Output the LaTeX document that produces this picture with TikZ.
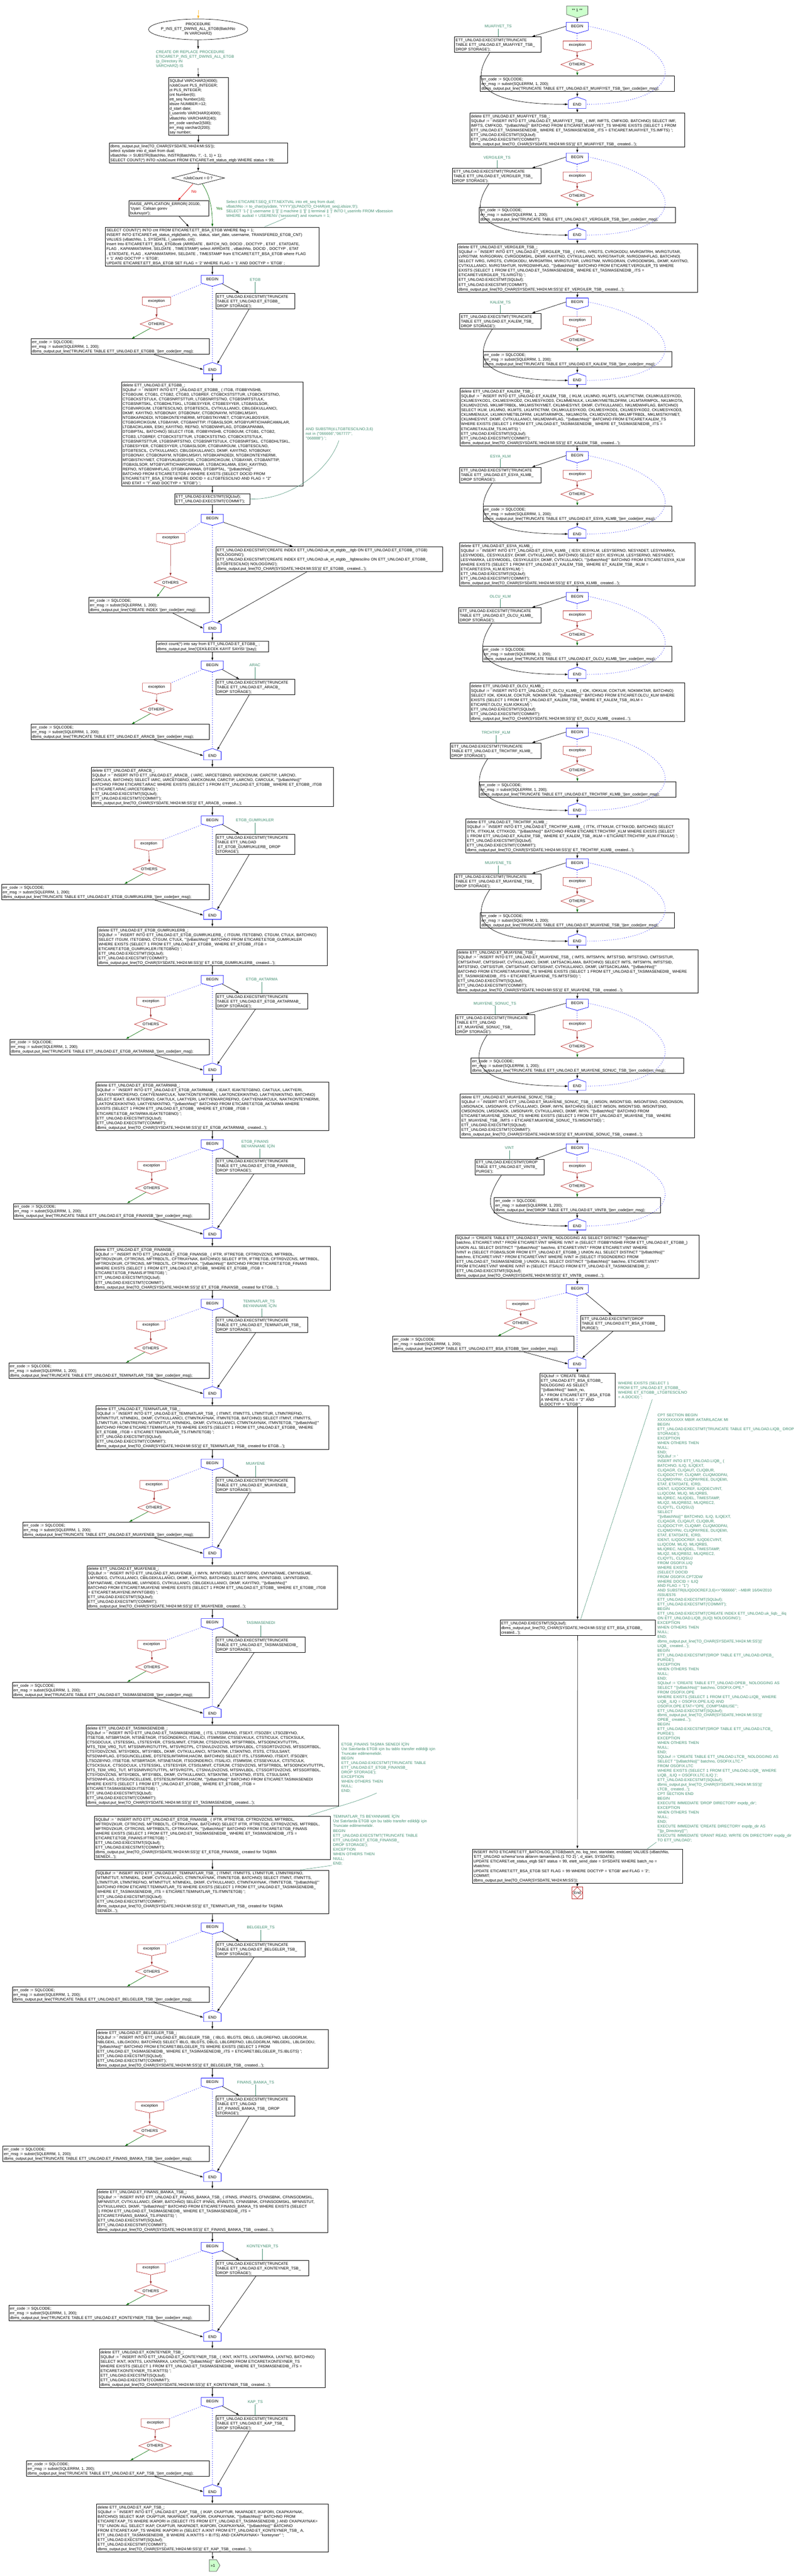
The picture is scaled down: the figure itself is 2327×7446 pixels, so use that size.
\documentclass[tikz,border=0pt]{standalone}
\usepackage{fontspec}
\newfontfamily\flowfont{Liberation Sans}
\usetikzlibrary{calc,positioning,arrows.meta,shapes.geometric,shapes.symbols}
\definecolor{cmtgreen}{RGB}{62,140,110}
\definecolor{excred}{RGB}{185,40,40}
\definecolor{exarrow}{RGB}{160,45,45}
\definecolor{othgreen}{RGB}{0,110,0}
\definecolor{nored}{RGB}{225,0,0}
\definecolor{conngreen}{RGB}{204,255,204}
\definecolor{startorange}{RGB}{255,170,0}
\newcommand{\errlines}[1]{err\_code := SQLCODE;\\err\_msg := substr(SQLERRM, 1, 200);\\dbms\_output.put\_line('#1'||err\_code||err\_msg);}

\begin{document}
\catcode`\_=12
\begin{tikzpicture}[x=1pt,y=-1pt,
    every node/.style={font=\flowfont\fontsize{11.3}{13.45}\selectfont},
    codebox/.style={draw,line width=1pt,align=left,inner xsep=3pt,inner ysep=2pt,
      execute at begin node={\rule{0pt}{11.4pt}},execute at end node={\rule[-2pt]{0pt}{2pt}}},
    cmt/.style={text=cmtgreen,align=left,inner sep=0pt,anchor=north west,
      execute at begin node={\rule{0pt}{11.4pt}},execute at end node={\rule[-2pt]{0pt}{2pt}}},
    tbl/.style={text=cmtgreen,inner sep=1pt,anchor=base,execute at end node={\rule[-2pt]{0pt}{2pt}}},
    beginbox/.style={shape=signal,signal to=south,signal pointer angle=148,draw=blue,line width=1pt,
      minimum width=64pt,minimum height=28pt,inner sep=0pt,anchor=north},
    endbox/.style={shape=signal,signal to=north,signal pointer angle=141,draw=blue,line width=1pt,
      minimum width=51pt,minimum height=28pt,inner sep=0pt,anchor=north},
    excbox/.style={shape=signal,signal to=south,signal pointer angle=155,draw=excred,line width=1pt,
      minimum width=82pt,minimum height=28pt,inner sep=0pt,anchor=north},
    othbox/.style={diamond,aspect=2.64,draw=excred,line width=1pt,
      minimum width=95pt,minimum height=36pt,inner sep=0pt,anchor=north},
    flowarrow/.style={-{Latex[length=9pt,width=6pt]},line width=1pt},
    dotflow/.style={blue,line width=1.3pt,dash pattern=on 1.3pt off 5pt},
    excflow/.style={flowarrow,exarrow},
    othflow/.style={flowarrow,othgreen},
    cmtline/.style={cmtgreen,line width=0.8pt}]
\useasboundingbox (0,0) rectangle (2327,7446);

% procedure head
\coordinate (start) at (574,30);
\node[ellipse,draw,line width=1pt,minimum width=254pt,minimum height=60pt,inner sep=-6pt,align=center] (proc) at (573,85) {PROCEDURE\\P_INS_ETT_DWINS_ALL_ETGB(BatchNo\\IN VARCHAR2)};
\node[cmt,text width=250pt] (cmtProc) at (451,142.6) {CREATE OR REPLACE PROCEDURE\\ETICARET.P_INS_ETT_DWINS_ALL_ETGB\\(p_Directory IN\\VARCHAR2) IS};
\node[codebox,anchor=north,text width=167pt] (decl) at (573.5,224) {SQLBuf  VARCHAR2(4000);\\nJobCount PLS_INTEGER;\\ct  PLS_INTEGER;\\cnt Number(6);\\ett_seq Number(16);\\idsize  NUMBER:=12;\\d_start date;\\l_userinfo VARCHAR2(4000);\\vBatchNo VARCHAR2(40);\\err_code varchar2(500);\\err_msg varchar2(200);\\say number;};
\node[codebox,anchor=north,text width=509pt] (startBox) at (573.5,413) {dbms_output.put_line(TO_CHAR(SYSDATE,'HH24:MI:SS'));\\select sysdate into d_start from dual;\\vBatchNo := SUBSTR(BatchNo, INSTR(BatchNo, '/', -1, 1) + 1);\\SELECT COUNT(*) INTO nJobCount FROM ETICARET.ett_status_etgb WHERE status < 99;};
\node[diamond,draw,line width=1pt,aspect=3.9,minimum width=152pt,minimum height=39pt,inner sep=0pt] (jobQ) at (573,514.5) {nJobCount = 0 ?};
\node[codebox,anchor=north west,text width=224pt] (raise) at (373,580) {RAISE_APPLICATION_ERROR(-20100,\\'Uyari: Calisan gorev\\bulunuyor');};
\node[cmt,text width=520pt] (cmtSeq) at (654,575.6) {Select ETICARET.SEQ_ETT.NEXTVAL into ett_seq from dual;\\vBatchNo := to_char(sysdate, 'YYYY')||LPAD(TO_CHAR(ett_seq),idsize,'0');\\SELECT '1-[' || username || '][' || machine || '][' || terminal || ']' INTO l_userinfo FROM v\$session\\WHERE audsid = USERENV ('sessionid') and rownum = 1;};
\node[codebox,anchor=north,text width=612pt] (bsaBox) at (614,656) {SELECT COUNT(*) INTO cnt FROM ETICARET.ETT_BSA_ETGB WHERE flag = 1;\\INSERT INTO ETICARET.ett_status_etgb(batch_no, status, start_date, username, TRANSFERED_ETGB_CNT)\\VALUES (vBatchNo, 1, SYSDATE, l_userinfo, cnt);\\Insert Into  ETICARET.ETT_BSA_ETGBcek (ARRDATE , BATCH_NO, DOCID  , DOCTYP  , ETAT  , ETATDATE,\\FLAG  , KAPANMATARIHI, SELDATE  , TIMESTAMP) select ARRDATE , vBatchNo, DOCID  , DOCTYP  , ETAT\\, ETATDATE, FLAG  , KAPANMATARIHI, SELDATE  , TIMESTAMP from ETICARET.ETT_BSA_ETGB where  FLAG\\= '1' AND DOCTYP = 'ETGB';\\UPDATE ETICARET.ETT_BSA_ETGB SET FLAG = '2' WHERE FLAG = '1' AND DOCTYP = 'ETGB' ;};
\node[text=nored,anchor=base] (lblNo) at (561,558) {No};
\node[text=othgreen,anchor=base] (lblYes) at (634,607) {Yes};

\draw[flowarrow,startorange] (start) -- (proc.north);
\draw[flowarrow] (proc.south) -- (proc.south |- cmtProc.north);
\draw[flowarrow] (proc.south |- cmtProc.south) -- (decl.north);
\draw[flowarrow] (decl.south) -- (startBox.north);
\draw[flowarrow] (startBox.south) -- (jobQ.north);
\draw[flowarrow,nored] ($(jobQ.south)+(-15,-3)$) -- ([xshift=141pt]raise.north west);
\draw[flowarrow,othgreen] ($(jobQ.south)+(12,-3)$) .. controls +(20,30) and +(0,-60) .. (bsaBox.north);
\draw[flowarrow] ([xshift=145pt]raise.south west) -- ([xshift=242pt]bsaBox.north west);
\draw[cmtline] ([xshift=172pt]cmtSeq.south west) -- ([xshift=460pt]bsaBox.north west);

% ETGB
\node[beginbox] (beginL1) at (614,795) {BEGIN};
\node[tbl] (lblL1) at (738,812) {ETGB};
\node[codebox,anchor=north west,text width=222pt] (truncL1) at (624,847) {ETT_UNLOAD.EXECSTMT('TRUNCATE\\TABLE ETT_UNLOAD.ET_ETGBB_\\DROP STORAGE');};
\node[excbox] (excL1) at (452.5,858) {exception};
\node[othbox] (othL1) at (452.5,918) {OTHERS};
\node[codebox,anchor=north east,text width=509pt] (errL1) at (605,979) {\errlines{TRUNCATE TABLE ETT_UNLOAD.ET_ETGBB_}};
\node[endbox] (endL1) at (614,1047) {END};
\node[codebox,anchor=north,text width=519pt] (delL1) at (614,1104) {delete ETT_UNLOAD.ET_ETGBB_;\\SQLBuf := ' INSERT INTO ETT_UNLOAD.ET_ETGBB_ ( ITGB, ITGBBYNSHB,\\CTGBGUM, CTGB1, CTGB2, CTGB3, LTGBREF, CTGBCKSTSTTUR, LTGBCKSTSTNO,\\CTGBCKSTSTULK, CTGBSNRTSTTUR, LTGBSNRTSTNO, CTGBSNRTSTULK,\\CTGBSNRTSKL, CTGBDHLTSKL, LTGBESYYER, CTGBESYYER, LTGBASLSOR,\\CTGBVARGUM, LTGBTESCILNO, DTGBTESCIL, CVTKULLANICI, CBILGEKULLANICI,\\DKMF, KAYITNO, NTGBONAY, DTGBONAY, CTGBONAYM, NTGBKLMSAYI,\\NTGBKAPADEDI, NTGBKONTEYNERMI, MTGBISTKIYMET, CTGBYUKLBOSYER,\\CTGBGIRCIKGUM, LTGBAYAR, CTGBANTTIP, ITGBASLSOR, MTGBYURTICIHARCAMALAR,\\LTGBACIKLAMA, ESKI_KAYITNO, REFNO, NTGBDWHFLAG, DTGBKAPANMA,\\DTGBIPTAL, BATCHNO) SELECT ITGB, ITGBBYNSHB, CTGBGUM, CTGB1, CTGB2,\\CTGB3, LTGBREF, CTGBCKSTSTTUR, LTGBCKSTSTNO, CTGBCKSTSTULK,\\CTGBSNRTSTTUR, LTGBSNRTSTNO, CTGBSNRTSTULK, CTGBSNRTSKL, CTGBDHLTSKL,\\LTGBESYYER, CTGBESYYER, LTGBASLSOR, CTGBVARGUM, LTGBTESCILNO,\\DTGBTESCIL, CVTKULLANICI, CBILGEKULLANICI, DKMF, KAYITNO, NTGBONAY,\\DTGBONAY, CTGBONAYM, NTGBKLMSAYI, NTGBKAPADEDI, NTGBKONTEYNERMI,\\MTGBISTKIYMET, CTGBYUKLBOSYER, CTGBGIRCIKGUM, LTGBAYAR, CTGBANTTIP,\\ITGBASLSOR, MTGBYURTICIHARCAMALAR, LTGBACIKLAMA, ESKI_KAYITNO,\\REFNO, NTGBDWHFLAG, DTGBKAPANMA, DTGBIPTAL, '''||vBatchNo||'''\\BATCHNO FROM ETICARET.ETGB d WHERE EXISTS (SELECT DOCID FROM\\ETICARET.ETT_BSA_ETGB WHERE DOCID = d.LTGBTESCILNO AND FLAG = ''2''\\AND ETAT = ''I'' AND DOCTYP = ''ETGB'') ';};
\node[codebox,anchor=north,text width=212pt] (execL1) at (614,1426) {ETT_UNLOAD.EXECSTMT(SQLbuf);\\ETT_UNLOAD.EXECSTMT('COMMIT');};
\node[cmt,text width=200pt] (cmtSubstr) at (884,1232) {AND SUBSTR(d.LTGBTESCILNO,3,6)\\not in (''066666'',''067777'',\\''068888'') ';};

% index block
\node[beginbox] (beginIdx) at (614,1486) {BEGIN};
\node[codebox,anchor=north west,text width=649pt] (truncIdx) at (624,1580) {ETT_UNLOAD.EXECSTMT('CREATE INDEX ETT_UNLOAD.uk_et_etgbb__itgb ON ETT_UNLOAD.ET_ETGBB_ (ITGB)\\NOLOGGING');\\ETT_UNLOAD.EXECSTMT('CREATE INDEX ETT_UNLOAD.uk_et_etgbb__ltgbtescilno ON ETT_UNLOAD.ET_ETGBB_\\(LTGBTESCILNO) NOLOGGING');\\dbms_output.put_line(TO_CHAR(SYSDATE,'HH24:MI:SS')||' ET_ETGBB_ created...');};
\node[excbox] (excIdx) at (493.5,1542) {exception};
\node[othbox] (othIdx) at (493,1665) {OTHERS};
\node[codebox,anchor=north east,text width=342pt] (errIdx) at (605,1726) {\errlines{CREATE INDEX }};
\node[endbox] (endIdx) at (614,1795) {END};
\node[codebox,anchor=north,text width=319pt] (countBox) at (614,1852) {select count(*) into say from ETT_UNLOAD.ET_ETGBB_ ;\\dbms_output.put_line('ÇEKİLECEK KAYIT SAYISI '||say);};

\draw[flowarrow] (bsaBox.south) -- (beginL1.north);
\draw[flowarrow] (delL1.south) -- (execL1.north);
\draw[flowarrow] (execL1.south) -- (beginIdx.north);
\draw[cmtline] ([xshift=96pt]cmtSubstr.south west) .. controls +(-30,90) and +(110,5) .. (execL1.east);
\draw[flowarrow] (beginIdx.-20) -- ([xshift=223pt]truncIdx.north west);
\draw[dotflow] (beginIdx.200) -- (excIdx.north east);
\draw[dotflow] (beginIdx.south) -- (endIdx.north);
\draw[excflow] (excIdx.south) -- (othIdx.north);
\draw[othflow] (othIdx.215) -- ($(othIdx.center |- errIdx.north)+(-40,0)$);
\draw[flowarrow] ([xshift=-106pt]errIdx.south east) -- (endIdx.west);
\draw[flowarrow] ([xshift=264pt]truncIdx.south west) -- (endIdx.50);
\draw[flowarrow] (endIdx.south) -- (countBox.north);

% ARAC
\node[beginbox] (beginL2) at (614,1910) {BEGIN};
\node[tbl] (lblL2) at (737,1926) {ARAC};
\node[codebox,anchor=north west,text width=222pt] (truncL2) at (624,1963) {ETT_UNLOAD.EXECSTMT('TRUNCATE\\TABLE ETT_UNLOAD.ET_ARACB_\\DROP STORAGE');};
\node[excbox] (excL2) at (453,1974) {exception};
\node[othbox] (othL2) at (452.5,2032) {OTHERS};
\node[codebox,anchor=north east,text width=509pt] (errL2) at (605,2093) {\errlines{TRUNCATE TABLE ETT_UNLOAD.ET_ARACB_}};
\node[endbox] (endL2) at (614,2163) {END};
\node[codebox,anchor=north,text width=695pt] (delL2) at (614,2218) {delete ETT_UNLOAD.ET_ARACB_;\\SQLBuf := ' INSERT INTO ETT_UNLOAD.ET_ARACB_ ( IARC, IARCETGBNO, IARCKONUM, CARCTIP, LARCNO,\\CARCULK, BATCHNO) SELECT IARC, IARCETGBNO, IARCKONUM, CARCTIP, LARCNO, CARCULK, '''||vBatchNo||'''\\BATCHNO FROM ETICARET.ARAC WHERE EXISTS (SELECT 1 FROM ETT_UNLOAD.ET_ETGBB_ WHERE ET_ETGBB_.ITGB\\= ETICARET.ARAC.IARCETGBNO) ';\\ETT_UNLOAD.EXECSTMT(SQLbuf);\\ETT_UNLOAD.EXECSTMT('COMMIT');\\dbms_output.put_line(TO_CHAR(SYSDATE,'HH24:MI:SS')||' ET_ARACB_ created...');};

% ETGB_GUMRUKLER
\node[beginbox] (beginL3) at (614,2358) {BEGIN};
\node[tbl] (lblL3) at (737,2375) {ETGB_GUMRUKLER};
\node[codebox,anchor=north west,text width=222pt] (truncL3) at (624,2411) {ETT_UNLOAD.EXECSTMT('TRUNCATE\\TABLE ETT_UNLOAD\\.ET_ETGB_GUMRUKLERB_ DROP\\STORAGE');};
\node[excbox] (excL3) at (430,2427) {exception};
\node[othbox] (othL3) at (431.5,2494) {OTHERS};
\node[codebox,anchor=north east,text width=594pt] (errL3) at (605,2555) {\errlines{TRUNCATE TABLE ETT_UNLOAD.ET_ETGB_GUMRUKLERB_}};
\node[endbox] (endL3) at (614,2624) {END};
\node[codebox,anchor=north,text width=657pt] (delL3) at (614,2679) {delete ETT_UNLOAD.ET_ETGB_GUMRUKLERB_;\\SQLBuf := ' INSERT INTO ETT_UNLOAD.ET_ETGB_GUMRUKLERB_ ( ITGUM, ITETGBNO, CTGUM, CTULK, BATCHNO)\\SELECT ITGUM, ITETGBNO, CTGUM, CTULK,  '''||vBatchNo||''' BATCHNO FROM ETICARET.ETGB_GUMRUKLER\\WHERE EXISTS (SELECT 1 FROM ETT_UNLOAD.ET_ETGBB_ WHERE ET_ETGBB_.ITGB =\\ETICARET.ETGB_GUMRUKLER.ITETGBNO) ';\\ETT_UNLOAD.EXECSTMT(SQLbuf);\\ETT_UNLOAD.EXECSTMT('COMMIT');\\dbms_output.put_line(TO_CHAR(SYSDATE,'HH24:MI:SS')||' ET_ETGB_GUMRUKLERB_ created...');};

% ETGB_AKTARMA
\node[beginbox] (beginL4) at (614,2819) {BEGIN};
\node[tbl] (lblL4) at (757,2835) {ETGB_AKTARMA};
\node[codebox,anchor=north west,text width=259pt] (truncL4) at (624,2871) {ETT_UNLOAD.EXECSTMT('TRUNCATE\\TABLE ETT_UNLOAD.ET_ETGB_AKTARMAB_\\DROP STORAGE');};
\node[excbox] (excL4) at (436,2882) {exception};
\node[othbox] (othL4) at (436,2942) {OTHERS};
\node[codebox,anchor=north east,text width=570pt] (errL4) at (605,3003) {\errlines{TRUNCATE TABLE ETT_UNLOAD.ET_ETGB_AKTARMAB_}};
\node[endbox] (endL4) at (614,3072) {END};
\node[codebox,anchor=north,text width=668pt] (delL4) at (614,3128) {delete ETT_UNLOAD.ET_ETGB_AKTARMAB_;\\SQLBuf := ' INSERT INTO ETT_UNLOAD.ET_ETGB_AKTARMAB_ ( IEAKT, IEAKTETGBNO, CAKTULK, LAKTYERI,\\LAKTYENIARCREFNO, CAKTYENIARCULK, NAKTKONTEYNERMI, LAKTONCEKIKNTNO, LAKTYENIKNTNO, BATCHNO)\\SELECT IEAKT, IEAKTETGBNO, CAKTULK, LAKTYERI, LAKTYENIARCREFNO, CAKTYENIARCULK, NAKTKONTEYNERMI,\\LAKTONCEKIKNTNO, LAKTYENIKNTNO, '''||vBatchNo||''' BATCHNO FROM ETICARET.ETGB_AKTARMA WHERE\\EXISTS (SELECT 1 FROM ETT_UNLOAD.ET_ETGBB_ WHERE ET_ETGBB_.ITGB =\\ETICARET.ETGB_AKTARMA.IEAKTETGBNO) ';\\ETT_UNLOAD.EXECSTMT(SQLbuf);\\ETT_UNLOAD.EXECSTMT('COMMIT');\\dbms_output.put_line(TO_CHAR(SYSDATE,'HH24:MI:SS')||' ET_ETGB_AKTARMAB_ created...');};

% ETGB_FINANS
\node[beginbox] (beginL5) at (614,3294) {BEGIN};
\node[cmt,text width=106pt] (lblL5) at (698,3292.6) {ETGB_FINANS\\BEYANNAME İÇİN};
\node[codebox,anchor=north west,text width=250pt] (truncL5) at (624,3347) {ETT_UNLOAD.EXECSTMT('TRUNCATE\\TABLE ETT_UNLOAD.ET_ETGB_FINANSB_\\DROP STORAGE');};
\node[excbox] (excL5) at (438.5,3357) {exception};
\node[othbox] (othL5) at (439,3416) {OTHERS};
\node[codebox,anchor=north east,text width=560pt] (errL5) at (605,3478) {\errlines{TRUNCATE TABLE ETT_UNLOAD.ET_ETGB_FINANSB_}};
\node[endbox] (endL5) at (614,3546) {END};
\node[codebox,anchor=north,text width=677pt] (delL5) at (614,3603) {delete ETT_UNLOAD.ET_ETGB_FINANSB_;\\SQLBuf := ' INSERT INTO ETT_UNLOAD.ET_ETGB_FINANSB_ ( IFTR, IFTRETGB, CFTRDVZCNS, MFTRBDL,\\MFTRDVZKUR, CFTRCINS, MFTRBDLTL, CFTRKAYNAK, BATCHNO) SELECT IFTR, IFTRETGB, CFTRDVZCNS, MFTRBDL,\\MFTRDVZKUR, CFTRCINS, MFTRBDLTL, CFTRKAYNAK, '''||vBatchNo||''' BATCHNO FROM ETICARET.ETGB_FINANS\\WHERE EXISTS (SELECT 1 FROM ETT_UNLOAD.ET_ETGBB_ WHERE ET_ETGBB_.ITGB =\\ETICARET.ETGB_FINANS.IFTRETGB) ';\\ETT_UNLOAD.EXECSTMT(SQLbuf);\\ETT_UNLOAD.EXECSTMT('COMMIT');\\dbms_output.put_line(TO_CHAR(SYSDATE,'HH24:MI:SS')||' ET_ETGB_FINANSB_ created for ETGB...');};

% TEMINATLAR_TS
\node[beginbox] (beginL6) at (614,3755) {BEGIN};
\node[cmt,text width=106pt] (lblL6) at (703,3754.3) {TEMINATLAR_TS\\BEYANNAME İÇİN};
\node[codebox,anchor=north west,text width=259pt] (truncL6) at (624,3807) {ETT_UNLOAD.EXECSTMT('TRUNCATE\\TABLE ETT_UNLOAD.ET_TEMINATLAR_TSB_\\DROP STORAGE');};
\node[excbox] (excL6) at (436,3818) {exception};
\node[othbox] (othL6) at (436,3878) {OTHERS};
\node[codebox,anchor=north east,text width=573pt] (errL6) at (605,3939) {\errlines{TRUNCATE TABLE ETT_UNLOAD.ET_TEMINATLAR_TSB_}};
\node[endbox] (endL6) at (614,4007) {END};
\node[codebox,anchor=north,text width=668pt] (delL6) at (614,4063) {delete ETT_UNLOAD.ET_TEMINATLAR_TSB_;\\SQLBuf := ' INSERT INTO ETT_UNLOAD.ET_TEMINATLAR_TSB_ ( ITMNT, ITMNTTS, LTMNTTUR, LTMNTREFNO,\\MTMNTTUT, NTMNEKL, DKMF, CVTKULLANICI, CTMNTKAYNAK, ITMNTETGB, BATCHNO) SELECT ITMNT, ITMNTTS,\\LTMNTTUR, LTMNTREFNO, MTMNTTUT, NTMNEKL, DKMF, CVTKULLANICI, CTMNTKAYNAK, ITMNTETGB, '''||vBatchNo||'''\\BATCHNO FROM ETICARET.TEMINATLAR_TS WHERE EXISTS (SELECT 1 FROM ETT_UNLOAD.ET_ETGBB_ WHERE\\ET_ETGBB_.ITGB = ETICARET.TEMINATLAR_TS.ITMNTETGB) ';\\ETT_UNLOAD.EXECSTMT(SQLbuf);\\ETT_UNLOAD.EXECSTMT('COMMIT');\\dbms_output.put_line(TO_CHAR(SYSDATE,'HH24:MI:SS')||' ET_TEMINATLAR_TSB_ created for ETGB...');};

% MUAYENE
\node[beginbox] (beginL7) at (614,4217) {BEGIN};
\node[tbl] (lblL7) at (739,4234) {MUAYENE};
\node[codebox,anchor=north west,text width=222pt] (truncL7) at (624,4269) {ETT_UNLOAD.EXECSTMT('TRUNCATE\\TABLE ETT_UNLOAD.ET_MUAYENEB_\\DROP STORAGE');};
\node[excbox] (excL7) at (445.5,4279) {exception};
\node[othbox] (othL7) at (445.5,4339) {OTHERS};
\node[codebox,anchor=north east,text width=533pt] (errL7) at (605,4399) {\errlines{TRUNCATE TABLE ETT_UNLOAD.ET_MUAYENEB_}};
\node[endbox] (endL7) at (614,4469) {END};
\node[codebox,anchor=north,text width=719pt] (delL7) at (614,4525) {delete ETT_UNLOAD.ET_MUAYENEB_;\\SQLBuf := ' INSERT INTO ETT_UNLOAD.ET_MUAYENEB_ ( IMYN, IMYNTGBID, LMYNTGBNO, CMYNATAME, CMYNISLME,\\LMYNDEG, CVTKULLANICI, CBILGEKULLANICI, DKMF, KAYITNO, BATCHNO) SELECT IMYN, IMYNTGBID, LMYNTGBNO,\\CMYNATAME, CMYNISLME, LMYNDEG, CVTKULLANICI, CBILGEKULLANICI, DKMF, KAYITNO,  '''||vBatchNo||'''\\BATCHNO FROM ETICARET.MUAYENE WHERE EXISTS (SELECT 1 FROM ETT_UNLOAD.ET_ETGBB_ WHERE ET_ETGBB_.ITGB\\= ETICARET.MUAYENE.IMYNTGBID) ';\\ETT_UNLOAD.EXECSTMT(SQLbuf);\\ETT_UNLOAD.EXECSTMT('COMMIT');\\dbms_output.put_line(TO_CHAR(SYSDATE,'HH24:MI:SS')||' ET_MUAYENEB_ created...');};

% TASIMASENEDI
\node[beginbox] (beginL8) at (614,4678) {BEGIN};
\node[tbl] (lblL8) at (754,4695) {TASIMASENEDI};
\node[codebox,anchor=north west,text width=251pt] (truncL8) at (624,4731) {ETT_UNLOAD.EXECSTMT('TRUNCATE\\TABLE ETT_UNLOAD.ET_TASIMASENEDIB_\\DROP STORAGE');};
\node[excbox] (excL8) at (438.5,4741) {exception};
\node[othbox] (othL8) at (439.5,4800) {OTHERS};
\node[codebox,anchor=north east,text width=563pt] (errL8) at (605,4862) {\errlines{TRUNCATE TABLE ETT_UNLOAD.ET_TASIMASENEDIB_}};
\node[endbox] (endL8) at (614,4931) {END};
\node[codebox,anchor=north,text width=725pt] (delL8) at (614,4986) {delete ETT_UNLOAD.ET_TASIMASENEDIB_;\\SQLBuf := ' INSERT INTO ETT_UNLOAD.ET_TASIMASENEDIB_ ( ITS, LTSSIRANO, ITSEXT, ITSOZBY, LTSOZBYNO,\\ITSETGB, NTSBRTAGR, NTSNETAGR, ITSGONDERICI, ITSALICI, ITSMMSM, CTSSEVKULK, CTSTICULK, CTSCKSULK,\\CTSGDCULK, LTSTESSKL, LTSTESYER, CTSISLMNIT, CTSRJM, CTSDVZCNS, MTSFTRBDL, MTSODNCKVTUTTPL,\\MTS_TEM_VRG_TUT, MTSSNRVRGTUTTPL, MTSVRGTPL, CTSNVLDVZCNS, MTSNVLBDL, CTSSGRTDVZCNS, MTSSGRTBDL,\\CTSYDDVZCNS, MTSYDBDL, MTSYIBDL, DKMF, CVTKULLANICI, NTSKNTMI, LTSKNTNO, ITSTS, CTSULSANT,\\NTSDWHFLAG, DTSGUNCELLEME, DTSTESLIMTARIHI,HACIM, BATCHNO) SELECT ITS, LTSSIRANO, ITSEXT, ITSOZBY,\\LTSOZBYNO, ITSETGB, NTSBRTAGR, NTSNETAGR, ITSGONDERICI, ITSALICI, ITSMMSM, CTSSEVKULK, CTSTICULK,\\CTSCKSULK, CTSGDCULK, LTSTESSKL, LTSTESYER, CTSISLMNIT, CTSRJM, CTSDVZCNS, MTSFTRBDL, MTSODNCKVTUTTPL,\\MTS_TEM_VRG_TUT, MTSSNRVRGTUTTPL, MTSVRGTPL, CTSNVLDVZCNS, MTSNVLBDL, CTSSGRTDVZCNS, MTSSGRTBDL,\\CTSYDDVZCNS, MTSYDBDL, MTSYIBDL, DKMF, CVTKULLANICI, NTSKNTMI, LTSKNTNO, ITSTS, CTSULSANT,\\NTSDWHFLAG, DTSGUNCELLEME, DTSTESLIMTARIHI,HACIM, '''||vBatchNo||''' BATCHNO FROM ETICARET.TASIMASENEDI\\WHERE EXISTS (SELECT 1 FROM ETT_UNLOAD.ET_ETGBB_ WHERE ET_ETGBB_.ITGB =\\ETICARET.TASIMASENEDI.ITSETGB) ';\\ETT_UNLOAD.EXECSTMT(SQLbuf);\\ETT_UNLOAD.EXECSTMT('COMMIT');\\dbms_output.put_line(TO_CHAR(SYSDATE,'HH24:MI:SS')||' ET_TASIMASENEDIB_ created...');};
\node[codebox,anchor=north,text width=676pt] (finTasima) at (614,5249) {SQLBuf := ' INSERT INTO ETT_UNLOAD.ET_ETGB_FINANSB_ ( IFTR, IFTRETGB, CFTRDVZCNS, MFTRBDL,\\MFTRDVZKUR, CFTRCINS, MFTRBDLTL, CFTRKAYNAK, BATCHNO) SELECT IFTR, IFTRETGB, CFTRDVZCNS, MFTRBDL,\\MFTRDVZKUR, CFTRCINS, MFTRBDLTL, CFTRKAYNAK, '''||vBatchNo||''' BATCHNO FROM ETICARET.ETGB_FINANS\\WHERE EXISTS (SELECT 1 FROM ETT_UNLOAD.ET_TASIMASENEDIB_ WHERE ET_TASIMASENEDIB_.ITS =\\ETICARET.ETGB_FINANS.IFTRETGB) ';\\ETT_UNLOAD.EXECSTMT(SQLbuf);\\ETT_UNLOAD.EXECSTMT('COMMIT');\\dbms_output.put_line(TO_CHAR(SYSDATE,'HH24:MI:SS')||' ET_ETGB_FINANSB_ created for TAŞIMA\\SENEDİ...');};
\node[codebox,anchor=north,text width=667pt] (temTasima) at (614.5,5405) {SQLBuf := ' INSERT INTO ETT_UNLOAD.ET_TEMINATLAR_TSB_ ( ITMNT, ITMNTTS, LTMNTTUR, LTMNTREFNO,\\MTMNTTUT, NTMNEKL, DKMF, CVTKULLANICI, CTMNTKAYNAK, ITMNTETGB, BATCHNO) SELECT ITMNT, ITMNTTS,\\LTMNTTUR, LTMNTREFNO, MTMNTTUT, NTMNEKL, DKMF, CVTKULLANICI, CTMNTKAYNAK, ITMNTETGB, '''||vBatchNo||'''\\BATCHNO FROM ETICARET.TEMINATLAR_TS WHERE EXISTS (SELECT 1 FROM ETT_UNLOAD.ET_TASIMASENEDIB_\\WHERE ET_TASIMASENEDIB_.ITS = ETICARET.TEMINATLAR_TS.ITMNTETGB) ';\\ETT_UNLOAD.EXECSTMT(SQLbuf);\\ETT_UNLOAD.EXECSTMT('COMMIT');\\dbms_output.put_line(TO_CHAR(SYSDATE,'HH24:MI:SS')||' ET_TEMINATLAR_TSB_ created for TAŞIMA\\SENEDİ...');};
\node[cmt,text width=420pt] (cmtFinans) at (987,5034.5) {ETGB_FINANS TAŞIMA SENEDİ İÇİN\\Üst Satırlarda ETGB için bu tablo transfer edildiği için\\Truncate edilmemelidir.\\BEGIN\\ETT_UNLOAD.EXECSTMT('TRUNCATE TABLE ETT_UNLOAD.ET_ETGB_FINANSB_\\DROP STORAGE');\\EXCEPTION\\WHEN OTHERS THEN\\NULL;\\END;};
\node[cmt,text width=420pt] (cmtTemin) at (963,5243.6) {TEMINATLAR_TS BEYANNAME İÇİN\\Üst Satırlarda ETGB için bu tablo transfer edildiği için\\Truncate edilmemelidir.\\BEGIN\\ETT_UNLOAD.EXECSTMT('TRUNCATE TABLE ETT_UNLOAD.ET_ETGB_FINANSB_\\DROP STORAGE');\\EXCEPTION\\WHEN OTHERS THEN\\NULL;\\END;};
\draw[flowarrow] (delL8.south) -- (finTasima.north);
\draw[flowarrow] (finTasima.south) -- (temTasima.north);
\draw[cmtline] ([xshift=102pt]cmtFinans.south west) .. controls +(-69,31) and +(68,-24) .. ([xshift=619pt]finTasima.north west);
\draw[cmtline] ([xshift=-3pt]cmtTemin.south west) -- ([xshift=591pt]temTasima.north west);

% BELGELER_TS
\node[beginbox] (beginL9) at (614,5558) {BEGIN};
\node[tbl] (lblL9) at (754,5575) {BELGELER_TS};
\node[codebox,anchor=north west,text width=251pt] (truncL9) at (624,5611) {ETT_UNLOAD.EXECSTMT('TRUNCATE\\TABLE ETT_UNLOAD.ET_BELGELER_TSB_\\DROP STORAGE');};
\node[excbox] (excL9) at (438.5,5621) {exception};
\node[othbox] (othL9) at (439,5680) {OTHERS};
\node[codebox,anchor=north east,text width=563pt] (errL9) at (605,5742) {\errlines{TRUNCATE TABLE ETT_UNLOAD.ET_BELGELER_TSB_}};
\node[endbox] (endL9) at (614,5810) {END};
\node[codebox,anchor=north,text width=665pt] (delL9) at (614,5866) {delete ETT_UNLOAD.ET_BELGELER_TSB_;\\SQLBuf := ' INSERT INTO ETT_UNLOAD.ET_BELGELER_TSB_ ( IBLG, IBLGTS, DBLG, LBLGREFNO, LBLGDGRLM,\\NBLGEKL, LBLGKODU, BATCHNO) SELECT IBLG, IBLGTS, DBLG, LBLGREFNO, LBLGDGRLM, NBLGEKL, LBLGKODU,\\'''||vBatchNo||''' BATCHNO FROM ETICARET.BELGELER_TS WHERE EXISTS (SELECT 1 FROM\\ETT_UNLOAD.ET_TASIMASENEDIB_ WHERE ET_TASIMASENEDIB_.ITS = ETICARET.BELGELER_TS.IBLGTS) ';\\ETT_UNLOAD.EXECSTMT(SQLbuf);\\ETT_UNLOAD.EXECSTMT('COMMIT');\\dbms_output.put_line(TO_CHAR(SYSDATE,'HH24:MI:SS')||' ET_BELGELER_TSB_ created...');};

% FINANS_BANKA_TS
\node[beginbox] (beginL10) at (614,6006) {BEGIN};
\node[tbl] (lblL10) at (739,6022.5) {FINANS_BANKA_TS};
\node[codebox,anchor=north west,text width=222pt] (truncL10) at (624,6058) {ETT_UNLOAD.EXECSTMT('TRUNCATE\\TABLE ETT_UNLOAD\\.ET_FINANS_BANKA_TSB_ DROP\\STORAGE');};
\node[excbox] (excL10) at (432.5,6075) {exception};
\node[othbox] (othL10) at (433,6141) {OTHERS};
\node[codebox,anchor=north east,text width=590pt] (errL10) at (605,6203) {\errlines{TRUNCATE TABLE ETT_UNLOAD.ET_FINANS_BANKA_TSB_}};
\node[endbox] (endL10) at (614,6272) {END};
\node[codebox,anchor=north,text width=661pt] (delL10) at (614,6327) {delete ETT_UNLOAD.ET_FINANS_BANKA_TSB_;\\SQLBuf := ' INSERT INTO ETT_UNLOAD.ET_FINANS_BANKA_TSB_ ( IFNNS, IFNNSTS, CFNNSBNK, CFNNSODMSKL,\\MFNNSTUT, CVTKULLANICI, DKMF, BATCHNO) SELECT IFNNS, IFNNSTS, CFNNSBNK, CFNNSODMSKL, MFNNSTUT,\\CVTKULLANICI, DKMF,  '''||vBatchNo||''' BATCHNO FROM ETICARET.FINANS_BANKA_TS WHERE EXISTS (SELECT\\1 FROM ETT_UNLOAD.ET_TASIMASENEDIB_ WHERE ET_TASIMASENEDIB_.ITS =\\ETICARET.FINANS_BANKA_TS.IFNNSTS) ';\\ETT_UNLOAD.EXECSTMT(SQLbuf);\\ETT_UNLOAD.EXECSTMT('COMMIT');\\dbms_output.put_line(TO_CHAR(SYSDATE,'HH24:MI:SS')||' ET_FINANS_BANKA_TSB_ created...');};

% KONTEYNER_TS
\node[beginbox] (beginL11) at (614,6481) {BEGIN};
\node[tbl] (lblL11) at (759,6497) {KONTEYNER_TS};
\node[codebox,anchor=north west,text width=262pt] (truncL11) at (624,6533) {ETT_UNLOAD.EXECSTMT('TRUNCATE\\TABLE ETT_UNLOAD.ET_KONTEYNER_TSB_\\DROP STORAGE');};
\node[excbox] (excL11) at (436,6543) {exception};
\node[othbox] (othL11) at (436,6603) {OTHERS};
\node[codebox,anchor=north east,text width=573pt] (errL11) at (605,6663) {\errlines{TRUNCATE TABLE ETT_UNLOAD.ET_KONTEYNER_TSB_}};
\node[endbox] (endL11) at (614,6734) {END};
\node[codebox,anchor=north,text width=647pt] (delL11) at (614,6789) {delete ETT_UNLOAD.ET_KONTEYNER_TSB_;\\SQLBuf := ' INSERT INTO ETT_UNLOAD.ET_KONTEYNER_TSB_ ( IKNT, IKNTTS, LKNTMARKA, LKNTNO, BATCHNO)\\SELECT IKNT, IKNTTS, LKNTMARKA, LKNTNO, '''||vBatchNo||''' BATCHNO FROM ETICARET.KONTEYNER_TS\\WHERE EXISTS (SELECT 1 FROM ETT_UNLOAD.ET_TASIMASENEDIB_ WHERE ET_TASIMASENEDIB_.ITS =\\ETICARET.KONTEYNER_TS.IKNTTS) ';\\ETT_UNLOAD.EXECSTMT(SQLbuf);\\ETT_UNLOAD.EXECSTMT('COMMIT');\\dbms_output.put_line(TO_CHAR(SYSDATE,'HH24:MI:SS')||' ET_KONTEYNER_TSB_ created...');};

% KAP_TS
\node[beginbox] (beginL12) at (614,6929) {BEGIN};
\node[tbl] (lblL12) at (738,6946) {KAP_TS};
\node[codebox,anchor=north west,text width=222pt] (truncL12) at (624,6981) {ETT_UNLOAD.EXECSTMT('TRUNCATE\\TABLE ETT_UNLOAD.ET_KAP_TSB_\\DROP STORAGE');};
\node[excbox] (excL12) at (449,6991) {exception};
\node[othbox] (othL12) at (448.5,7051) {OTHERS};
\node[codebox,anchor=north east,text width=522pt] (errL12) at (605,7112) {\errlines{TRUNCATE TABLE ETT_UNLOAD.ET_KAP_TSB_}};
\node[endbox] (endL12) at (614,7181) {END};
\node[codebox,anchor=north,text width=663pt] (delL12) at (614,7237) {delete ETT_UNLOAD.ET_KAP_TSB_;\\SQLBuf := ' INSERT INTO ETT_UNLOAD.ET_KAP_TSB_ ( IKAP, CKAPTUR, NKAPADET, IKAPORI, CKAPKAYNAK,\\BATCHNO) SELECT IKAP, CKAPTUR, NKAPADET, IKAPORI, CKAPKAYNAK, '''||vBatchNo||''' BATCHNO FROM\\ETICARET.KAP_TS WHERE IKAPORI in (SELECT ITS FROM ETT_UNLOAD.ET_TASIMASENEDIB_) AND CKAPKAYNAK=\\''TS'' UNION ALL SELECT IKAP, CKAPTUR, NKAPADET, IKAPORI, CKAPKAYNAK, '''||vBatchNo||''' BATCHNO\\FROM ETICARET.KAP_TS WHERE IKAPORI in (SELECT A.IKNT FROM ETT_UNLOAD.ET_KONTEYNER_TSB_ A,\\ETT_UNLOAD.ET_TASIMASENEDIB_ B WHERE A.IKNTTS = B.ITS) AND CKAPKAYNAK= ''konteyner'' ';\\ETT_UNLOAD.EXECSTMT(SQLbuf);\\ETT_UNLOAD.EXECSTMT('COMMIT');\\dbms_output.put_line(TO_CHAR(SYSDATE,'HH24:MI:SS')||' ET_KAP_TSB_ created...');};
\node[shape=signal,signal to=east,signal pointer angle=119,draw=black!70,fill=conngreen,line width=1pt,minimum width=31pt,minimum height=34pt,inner sep=0pt,anchor=north] (toNext) at (615.5,7398) {»1};
\draw[flowarrow] (delL12.south) -- (toNext.north);

\draw[flowarrow] (countBox.south) -- (beginL2.north);
\draw[flowarrow] (temTasima.south) -- (beginL9.north);
\foreach \i/\j in {2/3,3/4,4/5,5/6,6/7,7/8,9/10,10/11,11/12}
  \draw[flowarrow] (delL\i.south) -- (beginL\j.north);

\foreach \i in {1,...,12}{
  \draw[flowarrow] (beginL\i.-25) -- ([xshift=68pt]truncL\i.north west);
  \draw[dotflow] (beginL\i.205) -- (excL\i.north east);
  \draw[dotflow] (beginL\i.south) -- (endL\i.north);
  \draw[excflow] (excL\i.south) -- (othL\i.north);
  \draw[othflow] (othL\i.215) -- ($(othL\i.center |- errL\i.north)+(-72,0)$);
  \draw[flowarrow] ([xshift=-160pt]errL\i.south east) -- (endL\i.west);
  \draw[flowarrow] ([xshift=-18pt]truncL\i.south) -- (endL\i.50);
  \draw[flowarrow] (endL\i.south) -- (delL\i.north);
  \draw[cmtline] (lblL\i.south) -- (lblL\i.south |- truncL\i.north);
}

% right column
\node[shape=signal,signal to=south,signal pointer angle=144,draw=black!70,fill=conngreen,line width=1pt,minimum width=62pt,minimum height=29pt,inner sep=0pt,anchor=north] (fromPrev) at (1669,17) {** 1 **};

% MUAFIYET_TS
\node[beginbox] (beginR1) at (1669,64) {BEGIN};
\node[tbl] (lblR1) at (1440.5,80) {MUAFIYET_TS};
\node[codebox,anchor=north west,text width=244pt] (truncR1) at (1314,106) {ETT_UNLOAD.EXECSTMT('TRUNCATE\\TABLE ETT_UNLOAD.ET_MUAFIYET_TSB_\\DROP STORAGE');};
\node[excbox] (excR1) at (1669,118) {exception};
\node[othbox] (othR1) at (1669,168) {OTHERS};
\node[codebox,anchor=north,text width=555pt] (errR1) at (1669.5,219) {\errlines{TRUNCATE TABLE ETT_UNLOAD.ET_MUAFIYET_TSB_}};
\node[endbox] (endR1) at (1669,280) {END};
\node[codebox,anchor=north,text width=615pt] (delR1) at (1669.5,326) {delete ETT_UNLOAD.ET_MUAFIYET_TSB_;\\SQLBuf := ' INSERT INTO ETT_UNLOAD.ET_MUAFIYET_TSB_ ( IMF, IMFTS, CMFKOD, BATCHNO) SELECT IMF,\\IMFTS, CMFKOD, '''||vBatchNo||''' BATCHNO FROM ETICARET.MUAFIYET_TS WHERE EXISTS (SELECT 1 FROM\\ETT_UNLOAD.ET_TASIMASENEDIB_ WHERE ET_TASIMASENEDIB_.ITS = ETICARET.MUAFIYET_TS.IMFTS) ';\\ETT_UNLOAD.EXECSTMT(SQLbuf);\\ETT_UNLOAD.EXECSTMT('COMMIT');\\dbms_output.put_line(TO_CHAR(SYSDATE,'HH24:MI:SS')||' ET_MUAFIYET_TSB_ created...');};

% VERGILER_TS
\node[beginbox] (beginR2) at (1669,442) {BEGIN};
\node[tbl] (lblR2) at (1437,459) {VERGILER_TS};
\node[codebox,anchor=north west,text width=250pt] (truncR2) at (1308,486) {ETT_UNLOAD.EXECSTMT('TRUNCATE\\TABLE ETT_UNLOAD.ET_VERGILER_TSB_\\DROP STORAGE');};
\node[excbox] (excR2) at (1669,497) {exception};
\node[othbox] (othR2) at (1669,547) {OTHERS};
\node[codebox,anchor=north,text width=561pt] (errR2) at (1669.5,598) {\errlines{TRUNCATE TABLE ETT_UNLOAD.ET_VERGILER_TSB_}};
\node[endbox] (endR2) at (1669,658) {END};
\node[codebox,anchor=north,text width=688pt] (delR2) at (1670,705) {delete ETT_UNLOAD.ET_VERGILER_TSB_;\\SQLBuf := ' INSERT INTO ETT_UNLOAD.ET_VERGILER_TSB_ ( IVRG, IVRGTS, CVRGKODU, MVRGMTRH, MVRGTUTAR,\\LVRGTNM, NVRGORAN, CVRGODMSKL, DKMF, KAYITNO, CVTKULLANICI, NVRGTAHTUR, NVRGDWHFLAG, BATCHNO)\\SELECT IVRG, IVRGTS, CVRGKODU, MVRGMTRH, MVRGTUTAR, LVRGTNM, NVRGORAN, CVRGODMSKL, DKMF, KAYITNO,\\CVTKULLANICI, NVRGTAHTUR, NVRGDWHFLAG, '''||vBatchNo||''' BATCHNO FROM ETICARET.VERGILER_TS WHERE\\EXISTS (SELECT 1 FROM ETT_UNLOAD.ET_TASIMASENEDIB_ WHERE ET_TASIMASENEDIB_.ITS =\\ETICARET.VERGILER_TS.IVRGTS) ';\\ETT_UNLOAD.EXECSTMT(SQLbuf);\\ETT_UNLOAD.EXECSTMT('COMMIT');\\dbms_output.put_line(TO_CHAR(SYSDATE,'HH24:MI:SS')||' ET_VERGILER_TSB_ created...');};

% KALEM_TS
\node[beginbox] (beginR3) at (1669,861) {BEGIN};
\node[tbl] (lblR3) at (1447,878) {KALEM_TS};
\node[codebox,anchor=north west,text width=229pt] (truncR3) at (1329,905) {ETT_UNLOAD.EXECSTMT('TRUNCATE\\TABLE ETT_UNLOAD.ET_KALEM_TSB_\\DROP STORAGE');};
\node[excbox] (excR3) at (1669,914) {exception};
\node[othbox] (othR3) at (1669,964) {OTHERS};
\node[codebox,anchor=north,text width=539pt] (errR3) at (1669.5,1016) {\errlines{TRUNCATE TABLE ETT_UNLOAD.ET_KALEM_TSB_}};
\node[endbox] (endR3) at (1669,1078) {END};
\node[codebox,anchor=north,text width=672pt] (delR3) at (1669,1122) {delete ETT_UNLOAD.ET_KALEM_TSB_;\\SQLBuf := ' INSERT INTO ETT_UNLOAD.ET_KALEM_TSB_ ( IKLM, LKLMNO, IKLMTS, LKLMTICTNM, CKLMKULESYKOD,\\CKLMESYKOD1, CKLMESYKOD2, CKLMESYKOD3, CKLMMENULK, LKLMKIYMETBLDFRM, LKLMTARIMPOL, NKLMKOTA,\\CKLMDVZCNS, MKLMFTRBDL, MKLMISTKIYMET, CKLMHESYNT, DKMF, CVTKULLANICI, NKLMDWHFLAG, BATCHNO)\\SELECT IKLM, LKLMNO, IKLMTS, LKLMTICTNM, CKLMKULESYKOD, CKLMESYKOD1, CKLMESYKOD2, CKLMESYKOD3,\\CKLMMENULK, LKLMKIYMETBLDFRM, LKLMTARIMPOL, NKLMKOTA, CKLMDVZCNS, MKLMFTRBDL, MKLMISTKIYMET,\\CKLMHESYNT, DKMF, CVTKULLANICI, NKLMDWHFLAG,  '''||vBatchNo||''' BATCHNO FROM ETICARET.KALEM_TS\\WHERE EXISTS (SELECT 1 FROM ETT_UNLOAD.ET_TASIMASENEDIB_ WHERE ET_TASIMASENEDIB_.ITS =\\ETICARET.KALEM_TS.IKLMTS) ';\\ETT_UNLOAD.EXECSTMT(SQLbuf);\\ETT_UNLOAD.EXECSTMT('COMMIT');\\dbms_output.put_line(TO_CHAR(SYSDATE,'HH24:MI:SS')||' ET_KALEM_TSB_ created...');};

% ESYA_KLM
\node[beginbox] (beginR4) at (1669,1305) {BEGIN};
\node[tbl] (lblR4) at (1447,1323) {ESYA_KLM};
\node[codebox,anchor=north west,text width=229pt] (truncR4) at (1329,1350) {ETT_UNLOAD.EXECSTMT('TRUNCATE\\TABLE ETT_UNLOAD.ET_ESYA_KLMB_\\DROP STORAGE');};
\node[excbox] (excR4) at (1669,1359) {exception};
\node[othbox] (othR4) at (1669,1410) {OTHERS};
\node[codebox,anchor=north,text width=539pt] (errR4) at (1669.5,1462) {\errlines{TRUNCATE TABLE ETT_UNLOAD.ET_ESYA_KLMB_}};
\node[endbox] (endR4) at (1669,1522) {END};
\node[codebox,anchor=north,text width=675pt] (delR4) at (1669.5,1568) {delete ETT_UNLOAD.ET_ESYA_KLMB_;\\SQLBuf := ' INSERT INTO ETT_UNLOAD.ET_ESYA_KLMB_ ( IESY, IESYKLM, LESYSERNO, NESYADET, LESYMARKA,\\LESYMODEL, CESYKULESY, DKMF, CVTKULLANICI, BATCHNO) SELECT IESY, IESYKLM, LESYSERNO, NESYADET,\\LESYMARKA, LESYMODEL, CESYKULESY, DKMF, CVTKULLANICI, '''||vBatchNo||''' BATCHNO FROM ETICARET.ESYA_KLM\\WHERE EXISTS (SELECT 1 FROM ETT_UNLOAD.ET_KALEM_TSB_ WHERE ET_KALEM_TSB_.IKLM =\\ETICARET.ESYA_KLM.IESYKLM) ';\\ETT_UNLOAD.EXECSTMT(SQLbuf);\\ETT_UNLOAD.EXECSTMT('COMMIT');\\dbms_output.put_line(TO_CHAR(SYSDATE,'HH24:MI:SS')||' ET_ESYA_KLMB_ created...');};

% OLCU_KLM
\node[beginbox] (beginR5) at (1669,1712) {BEGIN};
\node[tbl] (lblR5) at (1446.5,1728) {OLCU_KLM};
\node[codebox,anchor=north west,text width=232pt] (truncR5) at (1326,1756) {ETT_UNLOAD.EXECSTMT('TRUNCATE\\TABLE ETT_UNLOAD.ET_OLCU_KLMB_\\DROP STORAGE');};
\node[excbox] (excR5) at (1669,1765) {exception};
\node[othbox] (othR5) at (1669,1816) {OTHERS};
\node[codebox,anchor=north,text width=540pt] (errR5) at (1669,1867) {\errlines{TRUNCATE TABLE ETT_UNLOAD.ET_OLCU_KLMB_}};
\node[endbox] (endR5) at (1669,1928) {END};
\node[codebox,anchor=north,text width=615pt] (delR5) at (1669.5,1973) {delete ETT_UNLOAD.ET_OLCU_KLMB_;\\SQLBuf := ' INSERT INTO ETT_UNLOAD.ET_OLCU_KLMB_ ( IOK, IOKKLM, COKTUR, NOKMIKTAR, BATCHNO)\\SELECT IOK, IOKKLM, COKTUR, NOKMIKTAR, '''||vBatchNo||''' BATCHNO FROM ETICARET.OLCU_KLM WHERE\\EXISTS (SELECT 1 FROM ETT_UNLOAD.ET_KALEM_TSB_ WHERE ET_KALEM_TSB_.IKLM =\\ETICARET.OLCU_KLM.IOKKLM) ';\\ETT_UNLOAD.EXECSTMT(SQLbuf);\\ETT_UNLOAD.EXECSTMT('COMMIT');\\dbms_output.put_line(TO_CHAR(SYSDATE,'HH24:MI:SS')||' ET_OLCU_KLMB_ created...');};

% TRCHTRF_KLM
\node[beginbox] (beginR6) at (1669,2104) {BEGIN};
\node[tbl] (lblR6) at (1434,2121) {TRCHTRF_KLM};
\node[codebox,anchor=north west,text width=256pt] (truncR6) at (1302,2147) {ETT_UNLOAD.EXECSTMT('TRUNCATE\\TABLE ETT_UNLOAD.ET_TRCHTRF_KLMB_\\DROP STORAGE');};
\node[excbox] (excR6) at (1669,2157) {exception};
\node[othbox] (othR6) at (1669,2207) {OTHERS};
\node[codebox,anchor=north,text width=564pt] (errR6) at (1670,2259) {\errlines{TRUNCATE TABLE ETT_UNLOAD.ET_TRCHTRF_KLMB_}};
\node[endbox] (endR6) at (1669,2321) {END};
\node[codebox,anchor=north,text width=639pt] (delR6) at (1669.5,2366) {delete ETT_UNLOAD.ET_TRCHTRF_KLMB_;\\SQLBuf := ' INSERT INTO ETT_UNLOAD.ET_TRCHTRF_KLMB_ ( ITTK, ITTKKLM, CTTKKOD, BATCHNO) SELECT\\ITTK, ITTKKLM, CTTKKOD, '''||vBatchNo||''' BATCHNO FROM ETICARET.TRCHTRF_KLM WHERE EXISTS (SELECT\\1 FROM ETT_UNLOAD.ET_KALEM_TSB_ WHERE ET_KALEM_TSB_.IKLM = ETICARET.TRCHTRF_KLM.ITTKKLM) ';\\ETT_UNLOAD.EXECSTMT(SQLbuf);\\ETT_UNLOAD.EXECSTMT('COMMIT');\\dbms_output.put_line(TO_CHAR(SYSDATE,'HH24:MI:SS')||' ET_TRCHTRF_KLMB_ created...');};

% MUAYENE_TS
\node[beginbox] (beginR7) at (1669,2482) {BEGIN};
\node[tbl] (lblR7) at (1440.5,2498.5) {MUAYENE_TS};
\node[codebox,anchor=north west,text width=244pt] (truncR7) at (1314,2525) {ETT_UNLOAD.EXECSTMT('TRUNCATE\\TABLE ETT_UNLOAD.ET_MUAYENE_TSB_\\DROP STORAGE');};
\node[excbox] (excR7) at (1669,2536) {exception};
\node[othbox] (othR7) at (1669,2586) {OTHERS};
\node[codebox,anchor=north,text width=555pt] (errR7) at (1669.5,2638) {\errlines{TRUNCATE TABLE ETT_UNLOAD.ET_MUAYENE_TSB_}};
\node[endbox] (endR7) at (1669,2699) {END};
\node[codebox,anchor=north,text width=692pt] (delR7) at (1670,2744) {delete ETT_UNLOAD.ET_MUAYENE_TSB_;\\SQLBuf := ' INSERT INTO ETT_UNLOAD.ET_MUAYENE_TSB_ ( IMTS, IMTSMYN, IMTSTSID, IMTSTSNO, CMTSISTUR,\\CMTSATHAT, CMTSISHAT, CVTKULLANICI, DKMF, LMTSACIKLAMA, BATCHNO) SELECT IMTS, IMTSMYN, IMTSTSID,\\IMTSTSNO, CMTSISTUR, CMTSATHAT, CMTSISHAT, CVTKULLANICI, DKMF, LMTSACIKLAMA,  '''||vBatchNo||'''\\BATCHNO FROM ETICARET.MUAYENE_TS WHERE EXISTS (SELECT 1 FROM ETT_UNLOAD.ET_TASIMASENEDIB_ WHERE\\ET_TASIMASENEDIB_.ITS = ETICARET.MUAYENE_TS.IMTSTSID) ';\\ETT_UNLOAD.EXECSTMT(SQLbuf);\\ETT_UNLOAD.EXECSTMT('COMMIT');\\dbms_output.put_line(TO_CHAR(SYSDATE,'HH24:MI:SS')||' ET_MUAYENE_TSB_ created...');};

% MUAYENE_SONUC_TS
\node[beginbox] (beginR8) at (1669,2888) {BEGIN};
\node[tbl] (lblR8) at (1431,2904) {MUAYENE_SONUC_TS};
\node[codebox,anchor=north west,text width=223pt] (truncR8) at (1317,2932) {ETT_UNLOAD.EXECSTMT('TRUNCATE\\TABLE ETT_UNLOAD\\.ET_MUAYENE_SONUC_TSB_\\DROP STORAGE');};
\node[excbox] (excR8) at (1669,2948) {exception};
\node[othbox] (othR8) at (1669,3006) {OTHERS};
\node[codebox,anchor=north,text width=609pt] (errR8) at (1669.5,3057) {\errlines{TRUNCATE TABLE ETT_UNLOAD.ET_MUAYENE_SONUC_TSB_}};
\node[endbox] (endR8) at (1669,3118) {END};
\node[codebox,anchor=north,text width=671pt] (delR8) at (1669.5,3162) {delete ETT_UNLOAD.ET_MUAYENE_SONUC_TSB_;\\SQLBuf := ' INSERT INTO ETT_UNLOAD.ET_MUAYENE_SONUC_TSB_ ( IMSON, IMSONTSID, IMSONTSNO, CMSONSON,\\LMSONACK, LMSONAYR, CVTKULLANICI, DKMF, IMYN, BATCHNO) SELECT IMSON, IMSONTSID, IMSONTSNO,\\CMSONSON, LMSONACK, LMSONAYR, CVTKULLANICI, DKMF, IMYN, '''||vBatchNo||''' BATCHNO FROM\\ETICARET.MUAYENE_SONUC_TS WHERE EXISTS (SELECT 1 FROM ETT_UNLOAD.ET_MUAYENE_TSB_ WHERE\\ET_MUAYENE_TSB_.IMTS = ETICARET.MUAYENE_SONUC_TS.IMSONTSID) ';\\ETT_UNLOAD.EXECSTMT(SQLbuf);\\ETT_UNLOAD.EXECSTMT('COMMIT');\\dbms_output.put_line(TO_CHAR(SYSDATE,'HH24:MI:SS')||' ET_MUAYENE_SONUC_TSB_ created...');};

% VINT
\node[beginbox] (beginR9) at (1669,3306) {BEGIN};
\node[tbl] (lblR9) at (1473,3322) {VINT};
\node[codebox,anchor=north west,text width=194pt] (truncR9) at (1373,3350) {ETT_UNLOAD.EXECSTMT('DROP\\TABLE ETT_UNLOAD.ET_VINTB_\\PURGE');};
\node[excbox] (excR9) at (1669,3359) {exception};
\node[othbox] (othR9) at (1669,3410) {OTHERS};
\node[codebox,anchor=north,text width=474pt] (errR9) at (1669,3461) {\errlines{DROP TABLE ETT_UNLOAD.ET_VINTB_}};
\node[endbox] (endR9) at (1669,3522) {END};
\node[codebox,anchor=north,text width=699pt] (delR9) at (1669.5,3569) {SQLbuf := 'CREATE TABLE ETT_UNLOAD.ET_VINTB_ NOLOGGING AS SELECT DISTINCT '''||vBatchNo||'''\\batchno, ETICARET.VINT.* FROM ETICARET.VINT WHERE IVINT in (SELECT ITGBBYNSHB FROM ETT_UNLOAD.ET_ETGBB_)\\UNION ALL SELECT DISTINCT '''||vBatchNo||''' batchno, ETICARET.VINT.* FROM ETICARET.VINT WHERE\\IVINT in (SELECT ITGBASLSOR FROM ETT_UNLOAD.ET_ETGBB_) UNION ALL SELECT DISTINCT '''||vBatchNo||'''\\batchno, ETICARET.VINT.* FROM ETICARET.VINT WHERE IVINT in (SELECT ITSGONDERICI FROM\\ETT_UNLOAD.ET_TASIMASENEDIB_) UNION ALL SELECT DISTINCT '''||vBatchNo||''' batchno, ETICARET.VINT.*\\FROM ETICARET.VINT WHERE IVINT in (SELECT ITSALICI FROM ETT_UNLOAD.ET_TASIMASENEDIB_)';\\ETT_UNLOAD.EXECSTMT(SQLbuf);\\dbms_output.put_line(TO_CHAR(SYSDATE,'HH24:MI:SS')||' ET_VINTB_ created...');};

\draw[flowarrow] (fromPrev.south) -- (beginR1.north);
\foreach \i/\j in {1/2,2/3,3/4,4/5,5/6,6/7,7/8,8/9}
  \draw[flowarrow] (delR\i.south) -- (beginR\j.north);

\foreach \i in {1,...,9}{
  \draw[flowarrow] (beginR\i.west) -- ([xshift=-27pt]truncR\i.north east);
  \draw[dotflow] (beginR\i.south) -- (excR\i.north);
  \draw[excflow] (excR\i.south) -- (othR\i.north);
  \draw[othflow] (othR\i.south) -- (errR\i.north);
  \draw[flowarrow] (errR\i.south) -- (endR\i.north);
  \draw[flowarrow] ([xshift=-23pt]truncR\i.south) .. controls +(-60,90) and +(-250,0) .. (endR\i.west);
  \draw[dotflow] (beginR\i.east) .. controls +(300,60) and +(300,0) .. (endR\i.east);
  \draw[flowarrow] (endR\i.south) -- (delR\i.north);
  \draw[cmtline] (lblR\i.south) -- (lblR\i.south |- truncR\i.north);
}

% ETT_BSA_ETGBB_
\node[beginbox] (beginB) at (1669,3713) {BEGIN};
\node[codebox,anchor=north west,text width=236pt] (dropB) at (1679,3802) {ETT_UNLOAD.EXECSTMT('DROP\\TABLE ETT_UNLOAD.ETT_BSA_ETGBB_\\PURGE');};
\node[excbox] (excB) at (1505,3758) {exception};
\node[othbox] (othB) at (1505.5,3806) {OTHERS};
\node[codebox,anchor=north east,text width=518pt] (errB) at (1660,3862) {\errlines{DROP TABLE ETT_UNLOAD.ETT_BSA_ETGBB_}};
\node[endbox] (endB) at (1669,3921) {END};
\node[codebox,anchor=north,text width=212pt] (sqlB) at (1670,3968) {SQLbuf := 'CREATE TABLE\\ETT_UNLOAD.ETT_BSA_ETGBB_\\NOLOGGING AS SELECT\\'''||vBatchNo||''' batch_no,\\A.* FROM ETICARET.ETT_BSA_ETGB\\A WHERE A.FLAG = ''2'' AND\\A.DOCTYP = ''ETGB''';};
\node[cmt,text width=200pt] (cmtWhere) at (1787,3990) {WHERE EXISTS (SELECT 1\\FROM ETT_UNLOAD.ET_ETGBB_\\WHERE ET_ETGBB_.LTGBTESCILNO\\= A.DOCID) ';};
\node[codebox,anchor=north,text width=442pt] (execB) at (1670,4682) {ETT_UNLOAD.EXECSTMT(SQLbuf);\\dbms_output.put_line(TO_CHAR(SYSDATE,'HH24:MI:SS')||' ETT_BSA_ETGBB_\\created...');};
\node[cmt,text width=425pt,font=\flowfont\fontsize{11.3}{13.35}\selectfont] (cmtCpt) at (1901,4082.6) {CPT SECTION BEGIN\\XXXXXXXXXX MBIR AKTARILACAK MI\\BEGIN\\ETT_UNLOAD.EXECSTMT('TRUNCATE TABLE ETT_UNLOAD.LIQB_ DROP\\STORAGE');\\EXCEPTION\\WHEN OTHERS THEN\\NULL;\\END;\\SQLBuf := '\\INSERT INTO ETT_UNLOAD.LIQB_ (\\BATCHNO, ILIQ, ILIQEXT,\\CLIQAGR, CLIQAUT, CLIQBUR,\\CLIQDOCTYP, CLIQIMP, CLIQMODPAI,\\CLIQMOYPAI, CLIQPAYREE, DLIQEMI,\\ETAT, ETATDATE, ICRD,\\IDENT, ILIQDOCREF, ILIQDECVINT,\\LLIQCOM, MLIQ, MLIQRBS,\\MLIQREC, NLIQDEL, TIMESTAMP,\\MLIQ2, MLIQRBS2, MLIQREC2,\\CLIQYTL, CLIQSUJ)\\SELECT\\'''||vBatchNo||''' BATCHNO, ILIQ, ILIQEXT,\\CLIQAGR, CLIQAUT, CLIQBUR,\\CLIQDOCTYP, CLIQIMP, CLIQMODPAI,\\CLIQMOYPAI, CLIQPAYREE, DLIQEMI,\\ETAT, ETATDATE, ICRD,\\IDENT, ILIQDOCREF, ILIQDECVINT,\\LLIQCOM, MLIQ, MLIQRBS,\\MLIQREC, NLIQDEL, TIMESTAMP,\\MLIQ2, MLIQRBS2, MLIQREC2,\\CLIQYTL, CLIQSUJ\\FROM OSOFIX.LIQ\\WHERE EXISTS\\(SELECT DOCID\\FROM OSOFIX.CPT2DW\\WHERE DOCID = ILIQ\\AND FLAG = ''1'')\\AND SUBSTR(ILIQDOCREF,3,6)<>''066666''; --MBIR 16/04/2010\\ISSUE576\\ETT_UNLOAD.EXECSTMT(SQLbuf);\\ETT_UNLOAD.EXECSTMT('COMMIT');\\BEGIN\\ETT_UNLOAD.EXECSTMT('CREATE INDEX ETT_UNLOAD.uk_liqb__iliq\\ON ETT_UNLOAD.LIQB_(ILIQ) NOLOGGING');\\EXCEPTION\\WHEN OTHERS THEN\\NULL;\\END;\\dbms_output.put_line(TO_CHAR(SYSDATE,'HH24:MI:SS')||'\\LIQB_ created...');\\BEGIN\\ETT_UNLOAD.EXECSTMT('DROP TABLE ETT_UNLOAD.OPEB_\\PURGE');\\EXCEPTION\\WHEN OTHERS THEN\\NULL;\\END;\\SQLbuf := 'CREATE TABLE ETT_UNLOAD.OPEB_ NOLOGGING AS\\SELECT '''||vBatchNo||''' batchno, OSOFIX.OPE.*\\FROM OSOFIX.OPE\\WHERE EXISTS (SELECT 1 FROM ETT_UNLOAD.LIQB_ WHERE\\LIQB_.ILIQ = OSOFIX.OPE.ILIQ AND\\OSOFIX.OPE.ETAT=''OPE_COMPTABILISE''';\\ETT_UNLOAD.EXECSTMT(SQLbuf);\\dbms_output.put_line(TO_CHAR(SYSDATE,'HH24:MI:SS')||'\\OPEB_ created...');\\BEGIN\\ETT_UNLOAD.EXECSTMT('DROP TABLE ETT_UNLOAD.LTCB_\\PURGE');\\EXCEPTION\\WHEN OTHERS THEN\\NULL;\\END;\\SQLbuf := 'CREATE TABLE ETT_UNLOAD.LTCB_ NOLOGGING AS\\SELECT '''||vBatchNo||''' batchno, OSOFIX.LTC.*\\FROM OSOFIX.LTC\\WHERE EXISTS (SELECT 1 FROM ETT_UNLOAD.LIQB_ WHERE\\LIQB_.ILIQ = OSOFIX.LTC.ILIQ )';\\ETT_UNLOAD.EXECSTMT(SQLbuf);\\dbms_output.put_line(TO_CHAR(SYSDATE,'HH24:MI:SS')||'\\LTCB_ created...');\\CPT SECTION END\\BEGIN\\EXECUTE IMMEDIATE 'DROP DIRECTORY expdp_dir';\\EXCEPTION\\WHEN OTHERS THEN\\NULL;\\END;\\EXECUTE IMMEDIATE 'CREATE DIRECTORY expdp_dir AS\\'''||p_Directory||'''';\\EXECUTE IMMEDIATE 'GRANT READ, WRITE ON DIRECTORY expdp_dir\\TO ETT_UNLOAD';};
\node[codebox,anchor=north,text width=601pt] (finalBox) at (1669.5,5344) {INSERT INTO ETICARET.ETT_BATCHLOG_ETGB(batch_no, log_text, startdate, enddate) VALUES (vBatchNo,\\'ETT_UNLOAD schema''sına aktarım tamamlandı.(1 TO 2) ', d_start, SYSDATE);\\UPDATE ETICARET.ett_status_etgb SET status = 99, etett_send_date = SYSDATE WHERE batch_no =\\vbatchno;\\UPDATE ETICARET.ETT_BSA_ETGB SET FLAG = 99 WHERE DOCTYP = 'ETGB' and  FLAG = '2';\\COMMIT;\\dbms_output.put_line(TO_CHAR(SYSDATE,'HH24:MI:SS'));};
\node[draw=excred,line width=1pt,minimum width=32pt,minimum height=33pt,inner sep=0pt,anchor=north] (endSq) at (1669,5454) {End};
\node[diamond,draw=excred,line width=1pt,minimum width=32pt,minimum height=33pt,inner sep=0pt] (endDia) at (endSq.center) {};

\draw[flowarrow] (delR9.south) -- (beginB.north);
\draw[flowarrow] (beginB.-30) -- ([xshift=90pt]dropB.north west);
\draw[dotflow] (beginB.200) -- (excB.north east);
\draw[dotflow] (beginB.south) -- (endB.north);
\draw[excflow] (excB.south) -- (othB.north);
\draw[othflow] (othB.215) -- ($(othB.center |- errB.north)+(-66,0)$);
\draw[flowarrow] ([xshift=-146pt]errB.south east) -- (endB.west);
\draw[flowarrow] ([xshift=94pt]dropB.south west) -- (endB.50);
\draw[flowarrow] (endB.south) -- (sqlB.north);
\draw[flowarrow] (sqlB.south) -- (execB.north);
\draw[cmtline] ([xshift=99pt]cmtWhere.south west) -- ([xshift=233pt]execB.north west);
\draw[flowarrow] (execB.south) -- (finalBox.north);
\draw[cmtline] ([xshift=-3pt]cmtCpt.south west) -- ([xshift=506pt]finalBox.north west);
\draw[flowarrow] (finalBox.south) -- (endSq.north);
\end{tikzpicture}
\end{document}
